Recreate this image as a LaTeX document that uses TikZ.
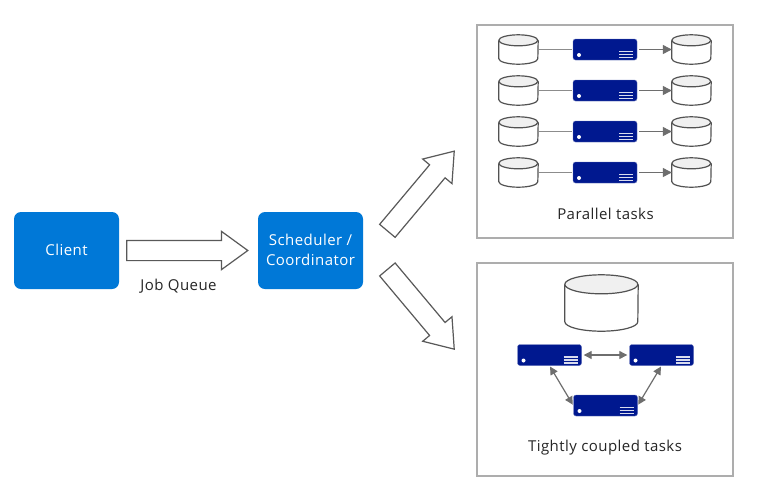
\documentclass[tikz,border=0pt]{standalone}
\usepackage{fontspec}
\setmainfont[LetterSpace=3]{Open Sans}
\usetikzlibrary{shapes.arrows,arrows.meta,calc}
\definecolor{azureblue}{HTML}{0078D7}
\definecolor{srvblue}{HTML}{00188F}
\definecolor{edgegray}{HTML}{6E6E6E}
\tikzset{
  panel/.style={draw=black!32,line width=1.1pt,fill=white},
  bluebox/.style={fill=azureblue,rounded corners=7pt,minimum width=105pt,minimum height=77pt,inner sep=0pt,text=white,font=\fontsize{15}{20}\selectfont,align=center},
  cylline/.style={draw=black!68,line width=1.2pt},
  srv/.style={fill=srvblue,draw=srvblue!60,line width=0.4pt,rounded corners=2.5pt,minimum width=64pt,minimum height=21pt,inner sep=0pt},
  blockarrow/.style={single arrow,draw=black!65,fill=white,line width=1.2pt,inner sep=0pt,text height=19pt,text depth=0pt,text width=0pt,
    single arrow head extend=9pt,single arrow tip angle=72,anchor=tail},
  lbl/.style={text=black!85,font=\fontsize{15}{18}\selectfont,inner sep=0pt},
  link/.style={draw=edgegray,line width=1.2pt},
  tiplink/.style={link,-{Triangle[length=9pt,width=9pt]}},
  bothlink/.style={link,{Triangle[length=8pt,width=8pt]}-{Triangle[length=8pt,width=8pt]}},
}
% cylinder: name, centre x, centre y, width, height, radius of the ellipse in y
\newcommand{\cylnode}[6]{%
  \node[inner sep=0pt,minimum width=#4pt,minimum height=#5pt] (#1) at (#2,#3) {};
  \path[cylline,fill=white] ($(#1.north west)+(0,#6)$) -- ($(#1.south west)+(0,-#6)$)
     arc[start angle=180,end angle=360,x radius=#4/2,y radius=-#6]
     -- ($(#1.north east)+(0,#6)$);
  \path[cylline,fill=black!6] ($(#1.north west)+(0,#6)$)
     arc[start angle=180,end angle=540,x radius=#4/2,y radius=#6];
}
% server: name, centre x, centre y
\newcommand{\srvnode}[3]{%
  \node[srv] (#1) at (#2,#3) {};
  \fill[white] ($(#1.west)+(6.2,5.5)$) circle (2pt);
  \foreach \d in {2.5,5.5,8.5}{
    \draw[white!85!srvblue,line width=1.1pt] ($(#1.east)+(-18,\d-0.5)$) -- ($(#1.east)+(-4,\d-0.5)$);
  }%
}
\begin{document}
\begin{tikzpicture}[x=1pt,y=-1pt]
\useasboundingbox (0,0) rectangle (781,496);
\fill[white] (0,0) rectangle (781,496);

\node[panel,minimum width=256pt,minimum height=213pt,inner sep=0pt] (p1) at (605,131.5) {};
\node[panel,minimum width=256pt,minimum height=213pt,inner sep=0pt] (p2) at (605,369.5) {};

\node[bluebox] (client) at (66.5,250.5) {};
\node[bluebox] (sched) at (310.5,250.5) {};
\node[text=white,font=\fontsize{15}{20}\selectfont,inner sep=0pt,align=center] (clientt) at (66.5,249.5) {Client};
\node[text=white,font=\fontsize{15}{20}\selectfont,inner sep=0pt,align=center] (schedt) at (310.5,249.5) {Scheduler /\\Coordinator};

\node[blockarrow,minimum height=121pt] (a1) at ($(client.east)+(7,0)$) {};
\node[blockarrow,minimum height=104pt,rotate=50] (a2) at (387,231.3) {};
\node[blockarrow,minimum height=104pt,rotate=-50] (a3) at (387,269) {};

\node[lbl] (jq) at (178.5,286.5) {Job Queue};
\node[lbl] (pt) at (605.5,214) {Parallel tasks};
\node[lbl] (tc) at (605,448) {Tightly coupled tasks};

\foreach \r/\y in {1/49.5,2/90.5,3/131.5,4/172.5}{
  \cylnode{l\r}{518.5}{\y}{39}{29}{5.5}
  \cylnode{r\r}{691.5}{\y}{39}{29}{5.5}
  \srvnode{s\r}{605}{\y}
  \draw[link,draw=black!45] (l\r.east) -- ([xshift=-1pt]s\r.west);
  \draw[tiplink] ([xshift=2pt]s\r.east) -- (r\r.west);
}

\cylnode{db}{601.5}{303}{73}{56}{9.5}
\srvnode{sl}{549.5}{355}
\srvnode{sr}{661.5}{355}
\srvnode{sb}{605.5}{405.5}
\draw[bothlink] ([xshift=2pt]sl.east) -- ([xshift=-2pt]sr.west);
\draw[bothlink,shorten <=1pt,shorten >=1pt] (sl.south) -- (sb.west);
\draw[bothlink,shorten <=1pt,shorten >=1pt] (sb.east) -- (sr.south);
\end{tikzpicture}
\end{document}
